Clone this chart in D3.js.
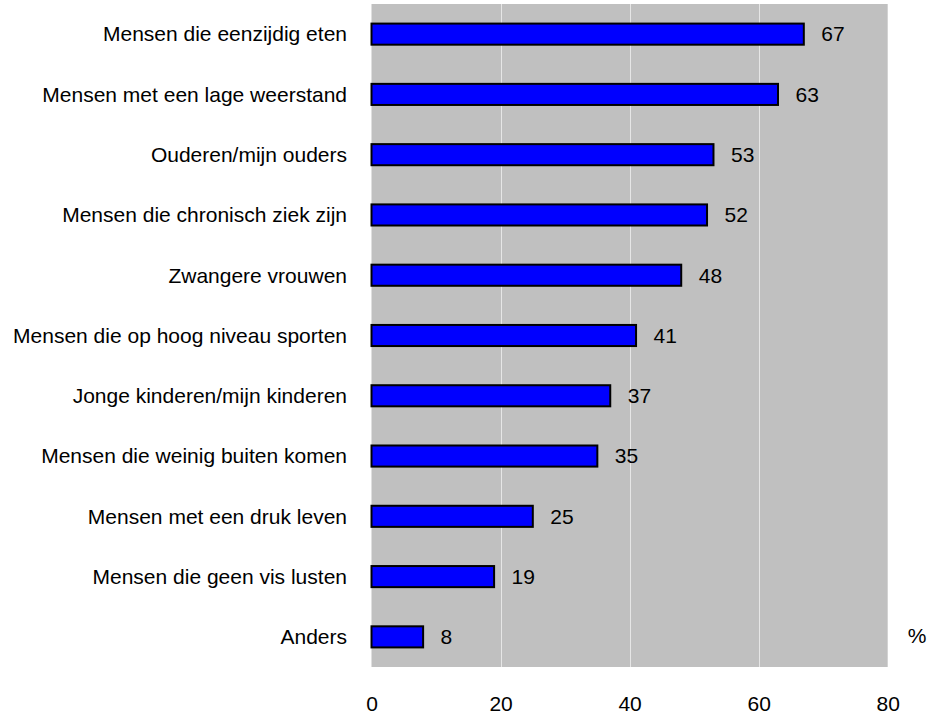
<!DOCTYPE html>
<html><head><meta charset="utf-8">
<script src="https://cdn.jsdelivr.net/npm/d3@7"></script>
<style>body{margin:0;background:#fff}svg{display:block}text{font-family:"Liberation Sans",Arial,sans-serif;fill:#000}</style>
</head><body><svg id="c" width="928" height="715"></svg>
<script>
const categories = ["Mensen die eenzijdig eten","Mensen met een lage weerstand","Ouderen/mijn ouders","Mensen die chronisch ziek zijn","Zwangere vrouwen","Mensen die op hoog niveau sporten","Jonge kinderen/mijn kinderen","Mensen die weinig buiten komen","Mensen met een druk leven","Mensen die geen vis lusten","Anders"];
const values = [67,63,53,52,48,41,37,35,25,19,8];
const xTicks = [0,20,40,60,80];
const unit = "%";

const FS = 21;
const svg = d3.select("#c");
const L = 371.5, R = 887.7, T = 4, B = 667;
const x = d3.scaleLinear().domain([0,80]).range([L,R]);
const y = d3.scaleBand().domain(categories).range([T,B]).paddingInner(0.65).paddingOuter(0.325);

svg.append("rect").attr("x",L).attr("y",T).attr("width",R-L).attr("height",B-T).attr("fill","#c0c0c0");
svg.append("g").selectAll("line").data(xTicks.slice(1,-1)).join("line")
  .attr("x1",d=>Math.round(x(d))+0.5).attr("x2",d=>Math.round(x(d))+0.5)
  .attr("y1",T).attr("y2",B).attr("stroke","#e6e6e6").attr("stroke-width",1);

svg.append("g").selectAll("rect").data(values).join("rect")
  .attr("x",x(0)).attr("y",(d,i)=>y(categories[i]))
  .attr("width",d=>x(d)-x(0)).attr("height",y.bandwidth())
  .attr("fill","#0000ff").attr("stroke","#000").attr("stroke-width",2);

svg.append("g").selectAll("text").data(values).join("text")
  .attr("x",d=>x(d)+17.5).attr("y",(d,i)=>y(categories[i])+y.bandwidth()/2)
  .attr("dy","0.35em").attr("font-size",FS).text(d=>d);

svg.append("g").selectAll("text").data(categories).join("text")
  .attr("x",347).attr("y",d=>y(d)+y.bandwidth()/2).attr("dy","0.35em")
  .attr("text-anchor","end").attr("font-size",FS).text(d=>d);

const ax = d3.axisBottom(x).tickValues(xTicks).tickSize(0).tickPadding(0);
const g = svg.append("g").attr("transform",`translate(0,${696})`).call(ax);
g.select(".domain").remove();
g.selectAll("text").attr("font-size",FS).style("font-family","'Liberation Sans',Arial,sans-serif").attr("fill","#000");

svg.append("text").attr("x",917).attr("y",636).attr("dy","0.35em").attr("text-anchor","middle").attr("font-size",FS).text(unit);
</script></body></html>
